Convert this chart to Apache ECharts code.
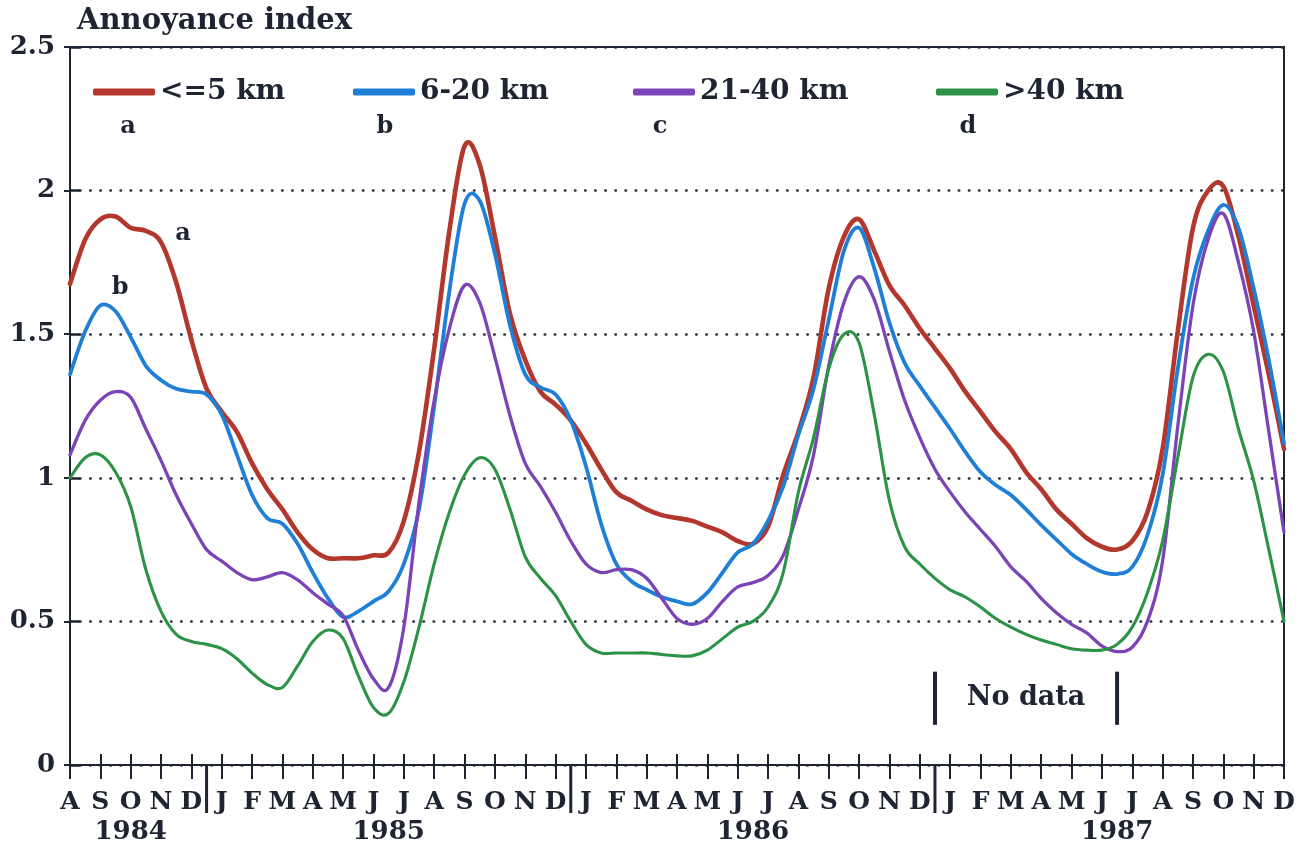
<!DOCTYPE html>
<html><head><meta charset="utf-8">
<script src="https://cdn.jsdelivr.net/npm/echarts@6/dist/echarts.min.js"></script>
<style>html,body{margin:0;padding:0;background:#fff}#c{width:1303px;height:852px}</style>
</head><body><div id="c"></div>
<script>
// Month ticks: Aug 1984 .. Dec 1987 (index 0..40)
const monthLabels = ['A','S','O','N','D',
  'J','F','M','A','M','J','J','A','S','O','N','D',
  'J','F','M','A','M','J','J','A','S','O','N','D',
  'J','F','M','A','M','J','J','A','S','O','N','D'];
const yearLabels = ['1984','1985','1986','1987'];
const yearCenters = [2, 10.5, 22.5, 34.5];
const yearBreaks = [4.5, 16.5, 28.5];
const noDataBounds = [28.5, 34.5];
const seriesNames = ['<=5 km', '6-20 km', '21-40 km', '>40 km'];
const legendLetters = ['a', 'b', 'c', 'd'];
const stepMonths = 0.5; // values read every half month from Aug 1984

const near5km = [1.675,1.83,1.90,1.91,1.87,1.86,1.82,1.68,1.48,1.31,
  1.23,1.16,1.05,0.96,0.89,0.81,0.75,0.72,0.72,0.72,
  0.73,0.74,0.85,1.09,1.45,1.86,2.155,2.09,1.84,1.57,
  1.41,1.30,1.255,1.20,1.12,1.03,0.95,0.92,0.89,0.87,
  0.86,0.85,0.83,0.81,0.78,0.77,0.83,1.01,1.16,1.35,
  1.66,1.84,1.90,1.79,1.67,1.60,1.52,1.45,1.38,1.30,
  1.23,1.16,1.10,1.02,0.96,0.89,0.84,0.79,0.76,0.75,
  0.78,0.88,1.10,1.51,1.87,2.00,2.015,1.84,1.60,1.36,
  1.10];
const km6to20 = [1.36,1.51,1.60,1.58,1.49,1.39,1.34,1.31,1.30,1.29,
  1.22,1.08,0.94,0.86,0.84,0.77,0.67,0.58,0.515,0.535,
  0.57,0.605,0.70,0.89,1.25,1.65,1.955,1.965,1.78,1.53,
  1.36,1.315,1.29,1.20,1.04,0.84,0.70,0.64,0.61,0.585,
  0.57,0.56,0.60,0.67,0.74,0.77,0.85,0.97,1.15,1.31,
  1.55,1.79,1.87,1.73,1.54,1.40,1.32,1.245,1.17,1.09,
  1.02,0.975,0.94,0.89,0.835,0.785,0.735,0.70,0.673,0.665,
  0.69,0.80,1.01,1.38,1.69,1.86,1.95,1.87,1.66,1.41,
  1.12];
const km21to40 = [1.08,1.20,1.27,1.30,1.28,1.17,1.06,0.94,0.84,0.75,
  0.71,0.67,0.645,0.655,0.67,0.645,0.60,0.56,0.52,0.40,
  0.30,0.27,0.48,0.915,1.27,1.52,1.67,1.61,1.42,1.215,
  1.05,0.97,0.88,0.78,0.70,0.67,0.68,0.68,0.65,0.58,
  0.51,0.49,0.51,0.57,0.62,0.635,0.66,0.73,0.89,1.08,
  1.39,1.61,1.70,1.62,1.44,1.27,1.14,1.03,0.95,0.88,
  0.82,0.76,0.69,0.64,0.58,0.53,0.49,0.46,0.415,0.395,
  0.41,0.50,0.71,1.18,1.60,1.83,1.92,1.75,1.51,1.16,
  0.81];
const over40km = [1.00,1.07,1.08,1.02,0.90,0.68,0.535,0.455,0.43,0.42,
  0.405,0.37,0.32,0.28,0.27,0.345,0.43,0.47,0.44,0.31,
  0.20,0.18,0.29,0.48,0.70,0.88,1.01,1.07,1.03,0.89,
  0.725,0.65,0.59,0.50,0.42,0.39,0.39,0.39,0.39,0.385,
  0.38,0.38,0.40,0.44,0.48,0.50,0.55,0.67,0.95,1.14,
  1.38,1.50,1.47,1.22,0.92,0.76,0.70,0.65,0.61,0.585,
  0.55,0.51,0.48,0.455,0.435,0.42,0.405,0.40,0.40,0.42,
  0.48,0.60,0.78,1.07,1.35,1.43,1.37,1.17,0.99,0.75,
  0.50];

const seriesValues = [near5km, km6to20, km21to40, over40km];
const colors = ['#b3372c', '#1f7fd6', '#7a44b6', '#2c9246'];
const widths = [4.6, 3.8, 3.3, 3.1];
const legendLeft = [93, 353, 633, 936];
const legendLetterX = [128, 385, 660, 968];

const FONT = 'DejaVu Serif';
const INK = '#1f2433';

const chart = echarts.init(document.getElementById('c'), null, {renderer: 'canvas'});

// Smooth curve through the scaled points (Catmull-Rom as cubic Bezier segments)
function curvePath(pts) {
  let d = 'M' + pts[0][0] + ' ' + pts[0][1];
  const n = pts.length;
  for (let i = 0; i < n - 1; i++) {
    const p0 = pts[Math.max(i - 1, 0)], p1 = pts[i], p2 = pts[i + 1], p3 = pts[Math.min(i + 2, n - 1)];
    const c1x = p1[0] + (p2[0] - p0[0]) / 6, c1y = p1[1] + (p2[1] - p0[1]) / 6;
    const c2x = p2[0] - (p3[0] - p1[0]) / 6, c2y = p2[1] - (p3[1] - p1[1]) / 6;
    d += ' C' + c1x + ' ' + c1y + ' ' + c2x + ' ' + c2y + ' ' + p2[0] + ' ' + p2[1];
  }
  return d;
}

const curveSeries = seriesValues.map((vals, s) => ({
  name: seriesNames[s],
  type: 'custom',
  xAxisIndex: 0, yAxisIndex: 0,
  data: vals.map((v, k) => [k * stepMonths, v]),
  encode: {x: 0, y: 1},
  itemStyle: {color: colors[s]},
  silent: true,
  z: 3 + s,
  renderItem: (params, api) => {
    if (params.dataIndex !== 0) return null;
    const pts = vals.map((v, k) => api.coord([k * stepMonths, v]));
    return {type: 'path', shape: {pathData: curvePath(pts)},
      style: {stroke: colors[s], lineWidth: widths[s], fill: null, lineCap: 'round', lineJoin: 'round'}};
  }
}));

const breakSeries = {
  type: 'custom', xAxisIndex: 0, yAxisIndex: 0, clip: false, silent: true, z: 10,
  data: yearBreaks.map(x => [x]),
  renderItem: (params, api) => {
    const p = api.coord([api.value(0), 0]);
    return {type: 'line', shape: {x1: p[0], y1: p[1], x2: p[0], y2: p[1] + 48},
      style: {stroke: INK, lineWidth: 3}};
  }
};

const noDataSeries = {
  type: 'custom', xAxisIndex: 0, yAxisIndex: 0, clip: false, silent: true, z: 10,
  data: noDataBounds.map(x => [x]),
  renderItem: (params, api) => {
    const a = api.coord([api.value(0), 0.14]);
    const b = api.coord([api.value(0), 0.325]);
    return {type: 'line', shape: {x1: a[0], y1: a[1], x2: b[0], y2: b[1]},
      style: {stroke: INK, lineWidth: 4}};
  }
};

const noDataText = {
  type: 'custom', xAxisIndex: 0, yAxisIndex: 0, clip: false, silent: true, z: 10,
  data: [[(noDataBounds[0] + noDataBounds[1]) / 2, 0.235]],
  renderItem: (params, api) => {
    const p = api.coord([api.value(0), api.value(1)]);
    return {type: 'text', x: p[0], y: p[1],
      style: {text: 'No data', fill: INK, font: 'bold 27px "' + FONT + '"', align: 'center', verticalAlign: 'middle'}};
  }
};

const curveTags = {
  type: 'custom', xAxisIndex: 0, yAxisIndex: 0, clip: false, silent: true, z: 10,
  data: [[3.72, 1.85, 0], [1.65, 1.66, 1]],
  renderItem: (params, api) => {
    const p = api.coord([api.value(0), api.value(1)]);
    return {type: 'text', x: p[0], y: p[1],
      style: {text: legendLetters[api.value(2)], fill: INK, font: 'bold 24px "' + FONT + '"', align: 'center', verticalAlign: 'middle'}};
  }
};

const baseX = {type: 'value', min: 0, max: 40, interval: 1, position: 'bottom', gridIndex: 0, splitLine: {show: false}};

chart.setOption({
  animation: false,
  backgroundColor: '#ffffff',
  title: {text: 'Annoyance index', left: 72, top: 2,
    textStyle: {fontFamily: FONT, fontWeight: 'bold', fontSize: 29, color: INK}},
  grid: {left: 70, right: 19, top: 47, bottom: 87, show: true, borderColor: INK, borderWidth: 2, backgroundColor: 'transparent'},
  legend: seriesNames.map((n, s) => ({
    data: [n], left: legendLeft[s], top: 78, icon: 'roundRect', itemWidth: 62, itemHeight: 7,
    selectedMode: false, padding: 0,
    textStyle: {fontFamily: FONT, fontWeight: 'bold', fontSize: 28, color: INK}
  })),
  xAxis: [
    Object.assign({}, baseX, {
      axisLine: {show: true, lineStyle: {color: INK, width: 2}},
      axisTick: {show: true, inside: false, length: 14, lineStyle: {color: INK, width: 2}},
      axisLabel: {show: true, formatter: v => monthLabels[v] || '', margin: 25,
        fontFamily: FONT, fontWeight: 'bold', fontSize: 25, color: INK}
    }),
    Object.assign({}, baseX, {
      axisLine: {show: false},
      axisTick: {show: true, inside: true, length: 11, lineStyle: {color: INK, width: 2}},
      axisLabel: {show: false}
    }),
    Object.assign({}, baseX, {
      interval: 0.5,
      axisLine: {show: false},
      axisTick: {show: false},
      axisLabel: {show: true, margin: 54, formatter: v => {
          const i = yearCenters.indexOf(v); return i >= 0 ? yearLabels[i] : '';
        },
        fontFamily: FONT, fontWeight: 'bold', fontSize: 26, color: INK}
    })
  ],
  yAxis: [
    {type: 'value', min: 0, max: 2.5, interval: 0.5, position: 'left',
      axisLine: {show: true, lineStyle: {color: INK, width: 2}},
      axisTick: {show: true, inside: true, length: 10, lineStyle: {color: INK, width: 2.5}},
      axisLabel: {show: true, margin: 15, fontFamily: FONT, fontWeight: 'bold', fontSize: 26, color: INK},
      splitLine: {show: true, lineStyle: {color: '#2a2e3a', width: 2.5, type: [0.5, 9.6], cap: 'round'}}
    },
    {type: 'value', min: 0, max: 2.5, interval: 0.5, position: 'right',
      axisLine: {show: true, lineStyle: {color: INK, width: 2}},
      axisTick: {show: true, inside: true, length: 6, lineStyle: {color: INK, width: 2}},
      axisLabel: {show: false}, splitLine: {show: false}
    }
  ],
  graphic: legendLetters.map((t, i) => ({
    type: 'text', x: legendLetterX[i], y: 127,
    style: {text: t, fill: INK, font: 'bold 24px "' + FONT + '"', align: 'center', verticalAlign: 'middle'}
  })),
  series: curveSeries.concat([breakSeries, noDataSeries, noDataText, curveTags])
});
</script>
</body></html>
